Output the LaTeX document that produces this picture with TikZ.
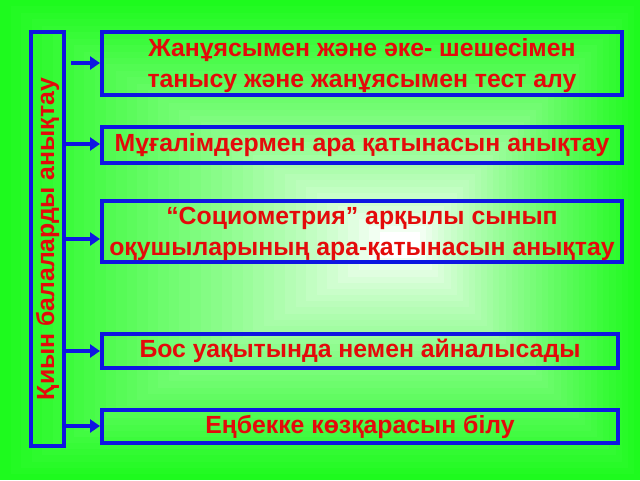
\documentclass[tikz,border=0pt]{standalone}
\usepackage{fontspec}
\setmainfont{Liberation Sans}
\usetikzlibrary{positioning, arrows.meta}
\tikzstyle{slide} = [x = 1pt, y = -1pt]
\definecolor{frameColor}{RGB}{14,22,226}
\definecolor{labelColor}{RGB}{228,10,10}
\definecolor{fieldColor}{RGB}{30,250,30}
\tikzstyle{actionBox} = [draw=frameColor, line width=4pt, inner sep=0pt, anchor=north west, align=center, text=labelColor, font=\bfseries\fontsize{24.8}{31}\selectfont]
\tikzstyle{twoLine} = [text depth=0pt]
\tikzstyle{titleText} = [rotate=90, text=labelColor, font=\bfseries\fontsize{24.8}{31}\selectfont]
\tikzstyle{flowArrow} = [draw=frameColor, line width=4pt, -{Triangle[length=10pt, width=13pt]}]
\newcommand{\stepCount}{36}
\newcommand{\actionBox}[7][]{\node [actionBox, minimum width = #5, minimum height = #6, #1] (#2) at (#3, #4) {#7};}
\newcommand{\fieldSteps}[4]{
  \foreach \k in {0,...,\stepCount} {
    \pgfmathsetmacro{\ratio}{\k / \stepCount}
    \pgfmathsetmacro{\xa}{\ratio * #1}
    \pgfmathsetmacro{\ya}{\ratio * #2}
    \pgfmathsetmacro{\xb}{640 - \ratio * (640 - #3)}
    \pgfmathsetmacro{\yb}{480 - \ratio * (480 - #4)}
    \pgfmathsetmacro{\pct}{100 * (1 - \ratio)^0.8}
    \fill [fieldColor!\pct!white] (\xa, \ya) rectangle (\xb, \yb);
  }
}

\begin{document}
\begin{tikzpicture}[slide]
            \useasboundingbox (0,0) rectangle (640,480);
            \fieldSteps{380}{232}{420}{258}

            \node [draw=frameColor, line width=4pt, anchor=north west, minimum width=33pt, minimum height=414pt] (side) at (29, 30) {};
            \node [titleText] (title) at (side.center) {Қиын балаларды анықтау};

            \actionBox[twoLine]{family}{100}{30}{520pt}{63pt}{Жанұясымен және әке- шешесімен\\танысу және жанұясымен тест алу}
            \actionBox{teachers}{100}{125}{520pt}{36pt}{Мұғалімдермен ара қатынасын анықтау}
            \actionBox[twoLine]{sociometry}{100}{199}{520pt}{61pt}{“Социометрия” арқылы сынып\\оқушыларының ара-қатынасын анықтау}
            \actionBox{leisure}{100}{332}{516pt}{34pt}{Бос уақытында немен айналысады}
            \actionBox{labour}{100}{408}{516pt}{33pt}{Еңбекке көзқарасын білу}

            \coordinate (tap1) at (71, 63);
            \coordinate (tap2) at (62, 144);
            \coordinate (tap3) at (62, 239);
            \coordinate (tap4) at (62, 351);
            \coordinate (tap5) at (62, 426);

            \draw [flowArrow] (tap1) -- (tap1 -| family.west);
            \draw [flowArrow] (tap2) -- (tap2 -| teachers.west);
            \draw [flowArrow] (tap3) -- (tap3 -| sociometry.west);
            \draw [flowArrow] (tap4) -- (tap4 -| leisure.west);
            \draw [flowArrow] (tap5) -- (tap5 -| labour.west);
          \end{tikzpicture}
\end{document}
